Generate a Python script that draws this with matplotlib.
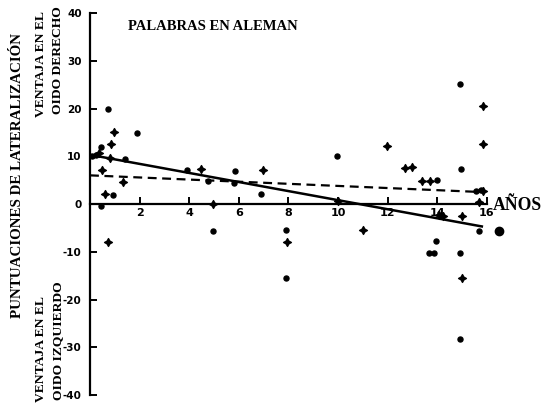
import matplotlib
matplotlib.use('Agg')
import matplotlib.pyplot as plt

# puntos (edad en años, puntuación de lateralización)
dots_x = [0.71, 1.88, 0.43, 1.41, 0.94, 0.43, 0.1, 0.25, 3.92, 4.77, 5.85, 5.8, 6.9,
          4.95, 7.9, 7.9, 9.95, 14.9, 14.95, 14.0, 13.95, 13.65, 13.87, 14.9, 14.9,
          15.7, 15.55, 15.75]
dots_y = [19.8, 14.8, 12.0, 9.5, 1.9, -0.5, 10.0, 10.3, 7.1, 4.8, 7.0, 4.5, 2.1,
          -5.6, -5.4, -15.5, 10.1, 25.1, 7.4, 5.0, -7.7, -10.3, -10.3, -10.3, -28.2,
          -5.6, 2.8, 2.9]
plus_x = [0.98, 0.85, 0.8, 0.35, 0.47, 1.32, 0.6, 0.74, 4.48, 6.96, 4.95, 7.93, 10.0,
          11.0, 11.96, 12.7, 12.97, 13.4, 13.7, 15.83, 15.86, 15.85, 14.07, 14.25,
          15.0, 15.0, 15.7]
plus_y = [15.0, 12.5, 9.6, 10.6, 7.2, 4.6, 2.1, -7.9, 7.4, 7.2, -0.1, -7.9, 0.6,
          -5.4, 12.2, 7.6, 7.8, 4.9, 4.8, 20.5, 12.5, 2.7, -2.4, -2.5,
          -2.6, -15.5, 0.4]
big_x = [16.5]
big_y = [-5.7]

# rectas de regresión (extremos)
fit_x = [0, 15.8]
solid_y = [10.3, -4.7]
dashed_y = [6.0, 2.5]

xticks = [2, 4, 6, 8, 10, 12, 14, 16]
yticks = [-40, -30, -20, -10, 0, 10, 20, 30, 40]

fig = plt.figure(figsize=(5.52, 4.11), dpi=100)
ax = fig.add_axes([90/552, 16/411, 462/552, 382/411])

ax.plot(fit_x, solid_y, color='black', lw=1.8)
ax.plot(fit_x, dashed_y, color='black', lw=1.6, linestyle=(0, (4, 2.5)))
ax.scatter(dots_x, dots_y, s=13, color='black', marker='o', zorder=3)
ax.scatter(plus_x, plus_y, s=32, color='black', marker=(4, 1, 0), zorder=3)
ax.scatter(big_x, big_y, s=36, color='black', marker='o', zorder=3)

ax.set_xlim(0, 462/24.8)
ax.set_ylim(-40, 40)

for s in ['top', 'right']:
    ax.spines[s].set_visible(False)
ax.spines['bottom'].set_position(('data', 0))
ax.spines['bottom'].set_bounds(0, 16)
ax.spines['left'].set_bounds(-40, 40)
ax.spines['bottom'].set_linewidth(1.6)
ax.spines['left'].set_linewidth(1.6)

ax.set_xticks(xticks)
ax.set_xticklabels([str(v) for v in xticks])
ax.set_yticks(yticks)
ax.set_yticklabels([str(v) for v in yticks])
ax.tick_params(axis='x', direction='in', length=5, width=1.4, labelsize=8, pad=3)
ax.tick_params(axis='y', direction='in', length=5, width=1.4, labelsize=7.5, pad=6)
for lab in ax.get_xticklabels() + ax.get_yticklabels():
    lab.set_fontweight('bold')
    lab.set_fontfamily('Liberation Sans Narrow')

serif = 'Liberation Serif'
fig.text(128/552, 1 - 27/411, 'PALABRAS EN ALEMAN', family=serif, weight='bold',
         fontsize=10.5, ha='left', va='center')
fig.text(493/552, 1 - 205/411, 'AÑOS', family=serif, weight='bold',
         fontsize=12.7, ha='left', va='center')
fig.text(18/552, 1 - 175/411, 'PUNTUACIONES DE LATERALIZACIÓN', family=serif,
         weight='bold', fontsize=10.8, rotation=90, ha='center', va='center')
fig.text(41/552, 1 - 64/411, 'VENTAJA EN EL', family=serif, weight='bold',
         fontsize=9.7, rotation=90, ha='center', va='center')
fig.text(58/552, 1 - 60/411, 'OIDO DERECHO', family=serif, weight='bold',
         fontsize=9.7, rotation=90, ha='center', va='center')
fig.text(41/552, 1 - 349/411, 'VENTAJA EN EL', family=serif, weight='bold',
         fontsize=9.7, rotation=90, ha='center', va='center')
fig.text(58/552, 1 - 341/411, 'OIDO IZQUIERDO', family=serif, weight='bold',
         fontsize=9.7, rotation=90, ha='center', va='center')

fig.savefig('out.png', dpi=100)
